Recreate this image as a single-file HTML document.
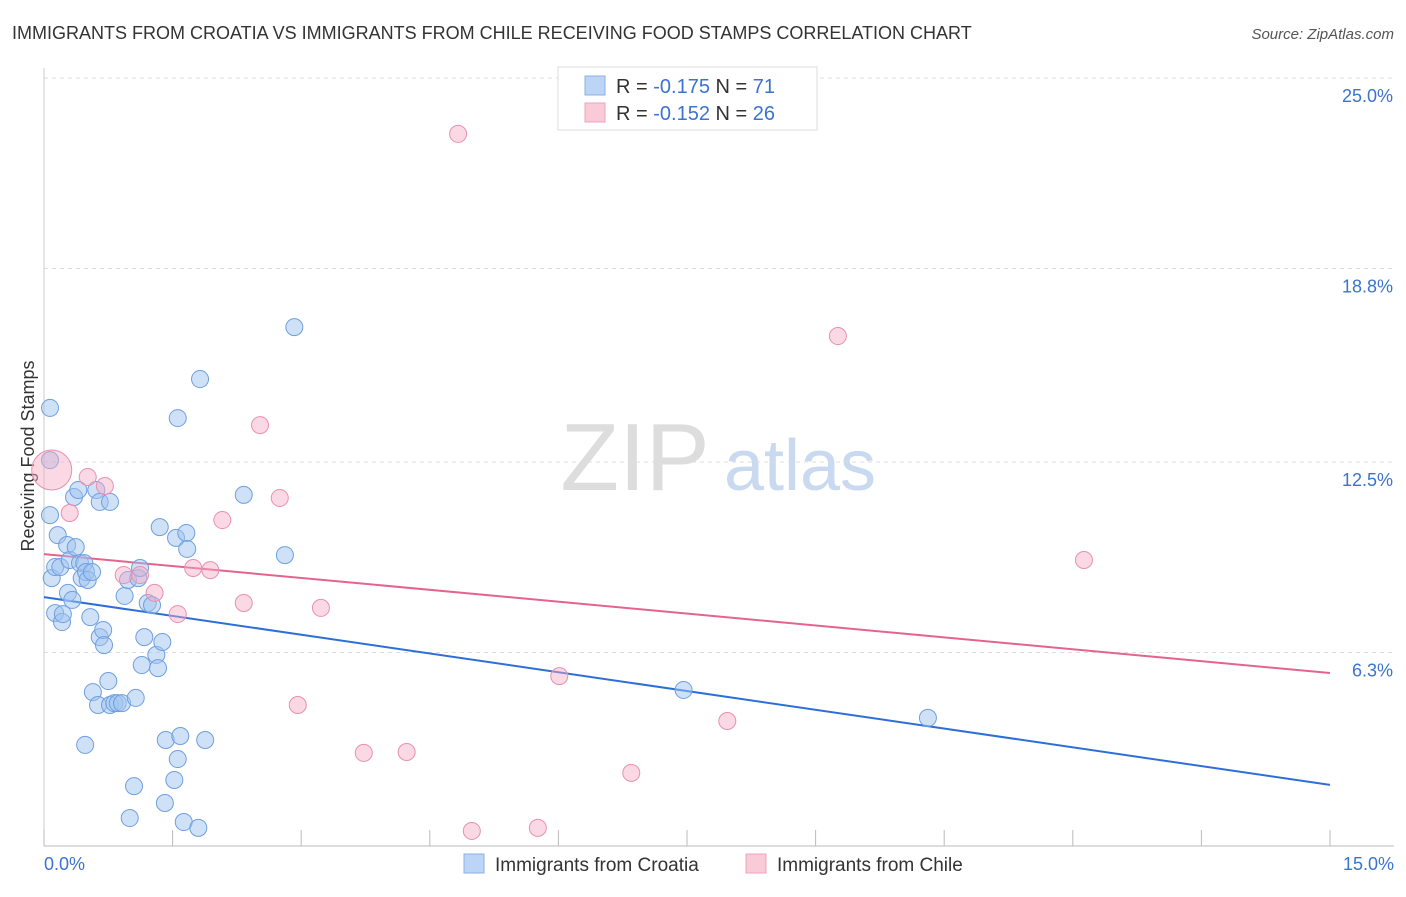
<!DOCTYPE html>
<html><head><meta charset="utf-8"><style>
body{margin:0;background:#fff;font-family:"Liberation Sans",sans-serif;}
svg text{font-family:"Liberation Sans",sans-serif;}
</style></head><body>
<svg id="chart" width="1406" height="892" xmlns="http://www.w3.org/2000/svg">
<text x="12" y="39" font-size="18" fill="#333">IMMIGRANTS FROM CROATIA VS IMMIGRANTS FROM CHILE RECEIVING FOOD STAMPS CORRELATION CHART</text>
<text x="1394" y="39" font-size="15" fill="#555" font-style="italic" text-anchor="end">Source: ZipAtlas.com</text>
<text transform="translate(34,456) rotate(-90)" font-size="18" fill="#333" text-anchor="middle">Receiving Food Stamps</text>
<g><text x="635" y="490" font-size="96" font-family="Liberation Serif" fill="#ddd" text-anchor="middle">ZIP</text><text x="800" y="490" font-size="72" fill="#c8d9f0" text-anchor="middle">atlas</text></g>
<g id="grid"></g><g id="axes"></g><g id="lines"></g><g id="points"></g>
<g>
<rect x="558" y="67" width="259" height="63" fill="#fff" stroke="#ddd"/>
<rect x="585" y="76" width="20" height="19" fill="#bcd4f5" stroke="#8ab0e6"/>
<rect x="585" y="103" width="20" height="19" fill="#f9cbd9" stroke="#eea3bc"/>
<text x="616" y="93" font-size="20" fill="#333">R = <tspan fill="#3b73d0">-0.175</tspan>   N =  <tspan fill="#3b73d0">71</tspan></text>
<text x="616" y="120" font-size="20" fill="#333">R = <tspan fill="#3b73d0">-0.152</tspan>   N = <tspan fill="#3b73d0">26</tspan></text>
</g>
<g>
<rect x="464" y="854" width="20" height="19" fill="#bcd4f5" stroke="#8ab0e6"/>
<text x="495" y="871" font-size="19" fill="#333">Immigrants from Croatia</text>
<rect x="746" y="854" width="20" height="19" fill="#f9cbd9" stroke="#eea3bc"/>
<text x="777" y="871" font-size="19" fill="#333">Immigrants from Chile</text>
</g>
</svg>
<script>
const yTicks=[25.0,18.8,12.5,6.3];
const yTickLabels=["25.0%","18.8%","12.5%","6.3%"];
const xEndLabels=["0.0%","15.0%"];
const croatiaX=[0.07,0.07,0.07,0.09,0.13,0.13,0.16,0.19,0.21,0.22,0.27,0.28,0.30,0.33,0.35,0.37,0.40,0.42,0.44,0.47,0.49,0.51,0.54,0.56,0.57,0.61,0.63,0.65,0.65,0.69,0.70,0.75,0.77,0.77,0.82,0.86,0.91,0.94,0.98,1.00,1.05,1.07,1.10,1.12,1.14,1.17,1.21,1.26,1.31,1.33,1.35,1.38,1.41,1.42,1.52,1.54,1.56,1.56,1.59,1.63,1.66,1.67,1.80,1.82,1.88,2.33,2.81,2.92,7.46,10.31,0.48];
const croatiaY=[14.26,12.56,10.77,8.72,9.08,7.58,10.12,9.08,7.29,7.55,9.80,8.24,9.31,8.01,11.36,9.73,11.59,9.21,8.72,9.21,8.92,8.66,7.45,8.92,5.01,11.59,4.59,6.80,11.20,7.03,6.54,5.37,11.20,4.59,4.65,4.65,4.65,8.14,8.66,0.91,1.95,4.82,8.72,9.05,5.89,6.80,7.91,7.84,6.22,5.79,10.38,6.64,1.40,3.45,2.15,10.03,13.93,2.83,3.58,0.78,10.19,9.67,0.59,15.20,3.45,11.43,9.47,16.89,5.08,4.17,3.29];
const chileX=[0.09,0.30,0.51,0.71,0.93,1.12,1.29,1.56,1.74,1.94,2.08,2.33,2.52,2.75,2.96,3.23,3.73,4.23,4.83,4.99,5.76,6.01,6.85,7.97,9.26,12.13];
const chileY=[12.24,10.84,12.01,11.72,8.82,8.82,8.24,7.55,9.05,8.98,10.61,7.91,13.70,11.33,4.59,7.75,3.03,3.06,23.18,0.49,0.59,5.53,2.38,4.07,16.60,9.31];
const croatiaTrend=[8.10,1.99];
const chileTrend=[9.50,5.63];
const NS="http://www.w3.org/2000/svg";
const X0=44,X1=1330,YB=846;
const xs=v=>X0+v/15*(X1-X0);
const ys=v=>YB-v*30.72;
function mk(tag,attrs,parent){const e=document.createElementNS(NS,tag);for(const k in attrs)e.setAttribute(k,attrs[k]);parent.appendChild(e);return e;}
const grid=document.getElementById('grid'),axes=document.getElementById('axes'),lines=document.getElementById('lines'),pts=document.getElementById('points');
yTicks.forEach((t,i)=>{
 const g=mk('line',{x1:X0,x2:1394,y1:ys(t),y2:ys(t),stroke:'#ddd','stroke-dasharray':'4,4'},grid);
 
 
 const l=mk('text',{x:1393,y:ys(t)+24,'font-size':18,fill:'#3b73d0','text-anchor':'end'},axes);
 l.textContent=yTickLabels[i];
 
 
});
const ax=mk('line',{x1:X0,x2:1394,y1:YB,y2:YB,stroke:'#bbb'},axes);


const ay=mk('line',{x1:X0,x2:X0,y1:68,y2:YB,stroke:'#ccc'},axes);


for(let i=0;i<=10;i++){
 const t=mk('line',{x1:xs(i*1.5),x2:xs(i*1.5),y1:YB,y2:830,stroke:'#bbb'},axes);
 
 
}
[[0,'start',44],[15,'end',1394]].forEach((d,i)=>{
 const l=mk('text',{x:d[2],y:870,'font-size':18,fill:'#3b73d0','text-anchor':d[1]},axes);
 l.textContent=xEndLabels[i];
 
 
});
function series(X,Y,fill,stroke,name,bigFirst){
 X.forEach((x,i)=>{
  const r=(bigFirst&&i===0)?20:8.5;
  const c=mk('circle',{cx:xs(x),cy:ys(Y[i]),r:r,fill:fill,stroke:stroke,'stroke-width':1},pts);
  
  
 });
}
series(croatiaX,croatiaY,'rgba(160,195,240,0.5)','#6f9fe0','croatia-point',false);
series(chileX,chileY,'rgba(245,170,195,0.45)','#e890b0','chile-point',true);
const tb=mk('line',{x1:xs(0),y1:ys(croatiaTrend[0]),x2:xs(15),y2:ys(croatiaTrend[1]),stroke:'#2d6fd6','stroke-width':2},lines);


const tp=mk('line',{x1:xs(0),y1:ys(chileTrend[0]),x2:xs(15),y2:ys(chileTrend[1]),stroke:'#e5638f','stroke-width':2},lines);


</script>
</body></html>
